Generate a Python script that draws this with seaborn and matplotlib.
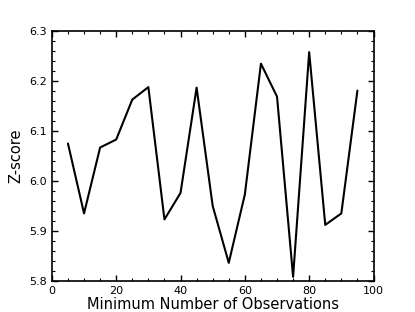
import matplotlib.pyplot as plt
import pandas as pd
import seaborn as sns
from matplotlib.ticker import MultipleLocator

# minimum observations vs z-score
min_obs = [5, 10, 15, 20, 25, 30, 35, 40, 45, 50, 55, 60, 65, 70, 75, 80, 85, 90, 95]
zscore = [6.075, 5.935, 6.067, 6.083, 6.163, 6.188, 5.923, 5.976, 6.187, 5.950,
          5.836, 5.973, 6.235, 6.169, 5.808, 6.258, 5.912, 5.935, 6.181]

df = pd.DataFrame({'min_obs': min_obs, 'zscore': zscore})

sns.set_style('white')
plt.rcParams['font.family'] = ['DejaVu Sans']
plt.rcParams['axes.labelcolor'] = 'black'
plt.rcParams['text.color'] = 'black'

fig, ax = plt.subplots(figsize=(4.15, 3.12), dpi=100)
fig.subplots_adjust(left=0.125, right=0.9, bottom=0.1, top=0.9)

sns.lineplot(data=df, x='min_obs', y='zscore', color='black', linewidth=1.5, ax=ax)

ax.set_xlim(0, 100)
ax.set_ylim(5.8, 6.3)
ax.xaxis.set_major_locator(MultipleLocator(20))
ax.xaxis.set_minor_locator(MultipleLocator(5))
ax.yaxis.set_major_locator(MultipleLocator(0.1))
ax.yaxis.set_minor_locator(MultipleLocator(0.02))
ax.tick_params(which='both', direction='in', top=True, right=True,
               bottom=True, left=True, colors='black', labelsize=8)
ax.tick_params(which='major', length=4, width=1)
ax.tick_params(which='minor', length=2, width=0.8)

for sp in ax.spines.values():
    sp.set_color('black')
    sp.set_linewidth(1.2)

ax.set_xlabel('Minimum Number of Observations', fontsize=10.5, labelpad=1)
ax.set_ylabel('Z-score', fontsize=10.5, labelpad=4)

fig.savefig('out.png', dpi=100)
